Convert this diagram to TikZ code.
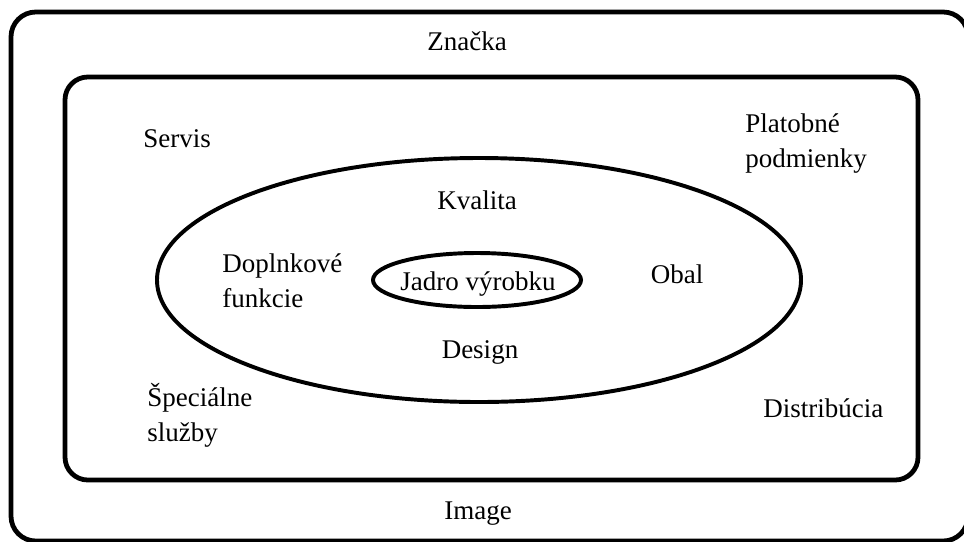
\documentclass[tikz,border=0pt]{standalone}
\usepackage{fontspec}
\setmainfont{Liberation Serif}
\usetikzlibrary{positioning}

\begin{document}
\begin{tikzpicture}[
  x=0.025cm, y=-0.025cm,
  frame/.style={draw, line width=3.4pt, rounded corners=0.62cm},
  ring/.style={draw, line width=2.8pt},
  lbl/.style={font=\fontsize{19.2}{24.2}\selectfont, inner sep=0pt, anchor=base},
  lblw/.style={lbl, anchor=base west, align=left}
]
  \useasboundingbox (0,0) rectangle (964,541);

  % frames
  \draw[frame] (11,12) rectangle (968,541);
  \draw[frame, rounded corners=0.57cm] (65,77) rectangle (918,480);

  % ellipses
  \draw[ring] (479,280) ellipse [x radius=322, y radius=122];
  \draw[ring] (477,280) ellipse [x radius=104, y radius=27];

  % labels (two-line ones sit on their last line)
  \node[lbl]  (znacka)  at (467,50)  {Značka};
  \node[lbl]  (image)   at (478,519) {Image};
  \node[lbl]  (kvalita) at (477,209) {Kvalita};
  \node[lbl]  (jadro)   at (478,290) {Jadro výrobku};
  \node[lbl]  (design)  at (480,358) {Design};
  \node[lbl]  (obal)    at (677,283) {Obal};
  \node[lblw] (servis)  at (143,147) {Servis};
  \node[lblw] (doplnk)  at (222,307) {Doplnkové\\funkcie};
  \node[lblw] (platba)  at (745,167) {Platobné\\podmienky};
  \node[lblw] (special) at (147,441) {Špeciálne\\služby};
  \node[lblw] (distrib) at (763,417) {Distribúcia};
\end{tikzpicture}
\end{document}
